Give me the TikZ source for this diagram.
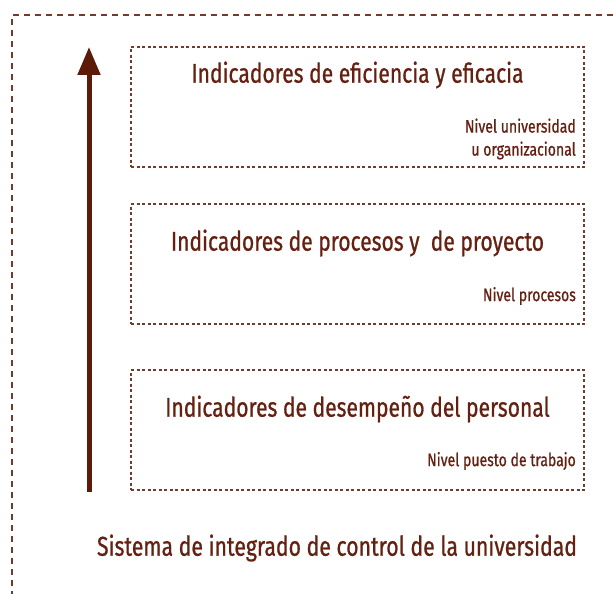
\documentclass[tikz,border=0pt]{standalone}
\usepackage{fontspec}
\setmainfont[FakeStretch=0.78,FakeBold=0.8]{Fira Sans}
\usetikzlibrary{arrows.meta,positioning}
\definecolor{cafe}{RGB}{92,26,8}
\definecolor{cafetexto}{RGB}{100,32,16}
\definecolor{cafeborde}{RGB}{112,60,46}
\tikzset{
  nivelbox/.style={draw=cafeborde, line width=1.1pt, dash pattern=on 3pt off 2.5pt,
    minimum width=453pt, minimum height=120pt, inner sep=0pt},
  titulo/.style={text=cafetexto, font=\fontsize{27}{30}\selectfont, inner sep=0pt},
  nivel/.style={text=cafetexto, font=\fontsize{18}{23}\selectfont, inner sep=0pt,
    align=right, anchor=east}
}
\begin{document}
\begin{tikzpicture}[x=1pt,y=-1pt]
  \useasboundingbox (0,0) rectangle (613,594);
  % marco exterior
  \draw[cafeborde, line width=1.1pt, dash pattern=on 6pt off 5pt] (613,15) -- (12,15) -- (12,594);

  % cajas de niveles
  \node[nivelbox] (efic) at (357.5,107) {};
  \node[nivelbox] (proc) at (357.5,264) {};
  \node[nivelbox] (pers) at (357.5,430) {};

  \node[titulo] (tefic) at (357.5,75) {Indicadores de eficiencia y eficacia};
  \node[titulo] (tproc) at (357.5,243) {Indicadores de procesos y\ \ de proyecto};
  \node[titulo] (tpers) at (357.5,409) {Indicadores de desempeño del personal};

  \node[nivel] (nefic) at (576,139) {Nivel universidad\\u organizacional};
  \node[nivel] (nproc) at (576,296) {Nivel procesos};
  \node[nivel] (npers) at (576,461) {Nivel puesto de trabajo};

  % flecha
  \coordinate (base) at (89,492);
  \coordinate (punta) at (89,47);
  \draw[cafe, line width=5pt, -{Triangle[width=22pt,length=28pt]}] (base) -- (punta);

  \node[titulo, font=\fontsize{27.2}{32}\selectfont] (sistema) at (337,548)
    {Sistema de integrado de control de la universidad};
\end{tikzpicture}
\end{document}
